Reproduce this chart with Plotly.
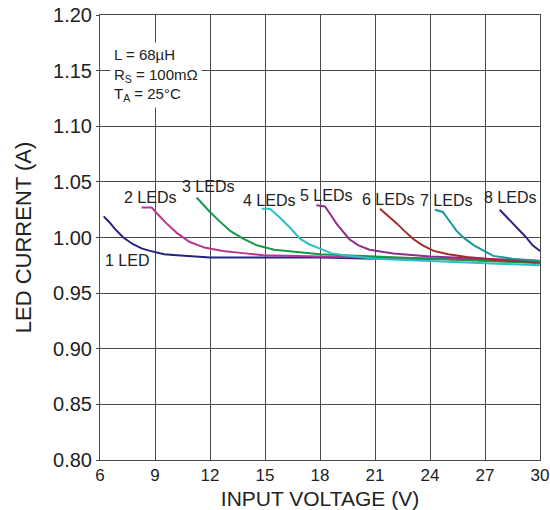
import plotly.graph_objects as go

# ---- data ----
led1_v = [6.2, 6.5, 6.8, 7.27, 7.8, 8.3, 8.73, 9.5, 10.2, 10.9, 12, 15, 18, 21, 24, 27, 30]
led1_i = [1.019, 1.014, 1.008, 1.000, 0.994, 0.990, 0.988, 0.985, 0.984, 0.983, 0.982, 0.982, 0.982, 0.981, 0.981, 0.980, 0.979]

led2_v = [8.27, 8.82, 9.2, 9.64, 10.2, 10.9, 11.7, 12.7, 13.8, 14.9, 18, 21, 24, 27, 30]
led2_i = [1.027, 1.027, 1.020, 1.0125, 1.004, 0.996, 0.991, 0.988, 0.986, 0.984, 0.983, 0.982, 0.981, 0.980, 0.979]

led3_v = [11.27, 11.6, 12.0, 12.5, 13.1, 13.8, 14.55, 15.5, 16.7, 18, 21, 24, 27, 30]
led3_i = [1.036, 1.030, 1.023, 1.015, 1.006, 0.999, 0.993, 0.989, 0.987, 0.985, 0.983, 0.981, 0.979, 0.977]

led4_v = [14.82, 15.27, 15.8, 16.36, 16.9, 17.4, 18.0, 18.6, 19.3, 21, 24, 27, 30]
led4_i = [1.026, 1.026, 1.018, 1.009, 0.999, 0.994, 0.990, 0.986, 0.984, 0.981, 0.979, 0.977, 0.975]

led5_v = [17.8, 18.27, 18.6, 18.9, 19.6, 20.1, 20.7, 22, 24, 27, 30]
led5_i = [1.029, 1.028, 1.020, 1.0125, 0.9985, 0.993, 0.989, 0.9856, 0.983, 0.981, 0.979]

led6_v = [21.27, 21.7, 22.2, 22.6, 23.1, 23.6, 24.2, 25, 26, 27.8, 30]
led6_i = [1.026, 1.020, 1.0125, 1.006, 0.9985, 0.993, 0.988, 0.985, 0.9826, 0.9795, 0.978]

led7_v = [24.27, 24.7, 25.1, 25.45, 25.9, 26.4, 27.45, 28.5, 30]
led7_i = [1.025, 1.023, 1.014, 1.006, 0.999, 0.993, 0.9835, 0.981, 0.979]

led8_v = [27.8, 28.2, 28.7, 29.2, 29.6, 30]
led8_i = [1.025, 1.018, 1.009, 1.001, 0.993, 0.988]

series_names = ["1 LED", "2 LEDs", "3 LEDs", "4 LEDs", "5 LEDs", "6 LEDs", "7 LEDs", "8 LEDs"]
series_v = [led1_v, led2_v, led3_v, led4_v, led5_v, led6_v, led7_v, led8_v]
series_i = [led1_i, led2_i, led3_i, led4_i, led5_i, led6_i, led7_i, led8_i]
colors = ["#26237e", "#b8368f", "#17994a", "#2cc0c4", "#922d90", "#a52b2b", "#16999a", "#2a2680"]

# label anchor positions (data coords)
label_v = [7.45, 8.73, 11.89, 15.22, 18.33, 21.71, 24.88, 28.34]
label_i = [0.979, 1.0364, 1.0463, 1.0337, 1.038, 1.0346, 1.0337, 1.0364]

x_ticks = [6, 9, 12, 15, 18, 21, 24, 27, 30]
y_ticks = [0.80, 0.85, 0.90, 0.95, 1.00, 1.05, 1.10, 1.15, 1.20]

font_family = "Liberation Sans, Arial, sans-serif"
txt = "#222222"
grid = "#4a4a4a"

fig = go.Figure()
for name, v, i, c in zip(series_names, series_v, series_i, colors):
    fig.add_trace(go.Scatter(x=v, y=i, mode="lines", name=name,
                             line=dict(color=c, width=2)))

for name, lv, li in zip(series_names, label_v, label_i):
    fig.add_annotation(x=lv, y=li, text=name, showarrow=False,
                       font=dict(size=16, color=txt), xanchor="center", yanchor="middle")

fig.add_annotation(x=6.55, y=1.1757, xref="x", yref="y",
                   text="L = 68µH<br>R<sub>S</sub> = 100mΩ<br>T<sub>A</sub> = 25°C",
                   showarrow=False, align="left", xanchor="left", yanchor="top",
                   bgcolor="white", borderpad=3, font=dict(size=15, color=txt))

axis_common = dict(showgrid=True, gridcolor=grid, gridwidth=1,
                   showline=True, linecolor=grid, linewidth=1, mirror=True,
                   zeroline=False, automargin=False, ticklabeloverflow="allow")

fig.update_xaxes(range=[6, 30], tickvals=x_ticks, ticktext=[str(t) for t in x_ticks],
                 ticks="", tickfont=dict(size=17, color=txt),
                 title=dict(text="INPUT VOLTAGE (V)", font=dict(size=21, color=txt), standoff=8),
                 **axis_common)
fig.update_yaxes(range=[0.80, 1.2001], tickvals=y_ticks, ticktext=[f"{t:.2f}" for t in y_ticks],
                 ticks="outside", ticklen=3, tickcolor=grid,
                 tickfont=dict(size=20, color=txt),
                 title=dict(text="LED CURRENT (A)", font=dict(size=22, color=txt), standoff=15),
                 **axis_common)

fig.update_layout(width=550, height=510, showlegend=False,
                  margin=dict(l=100, r=10, t=15, b=50),
                  paper_bgcolor="white", plot_bgcolor="white",
                  font=dict(family=font_family))

# remove the browser's default page margin so the figure fills the window
fig.write_html("out.html", config={"displayModeBar": False},
               post_script="document.body.style.margin='0';document.body.style.overflow='hidden';")
